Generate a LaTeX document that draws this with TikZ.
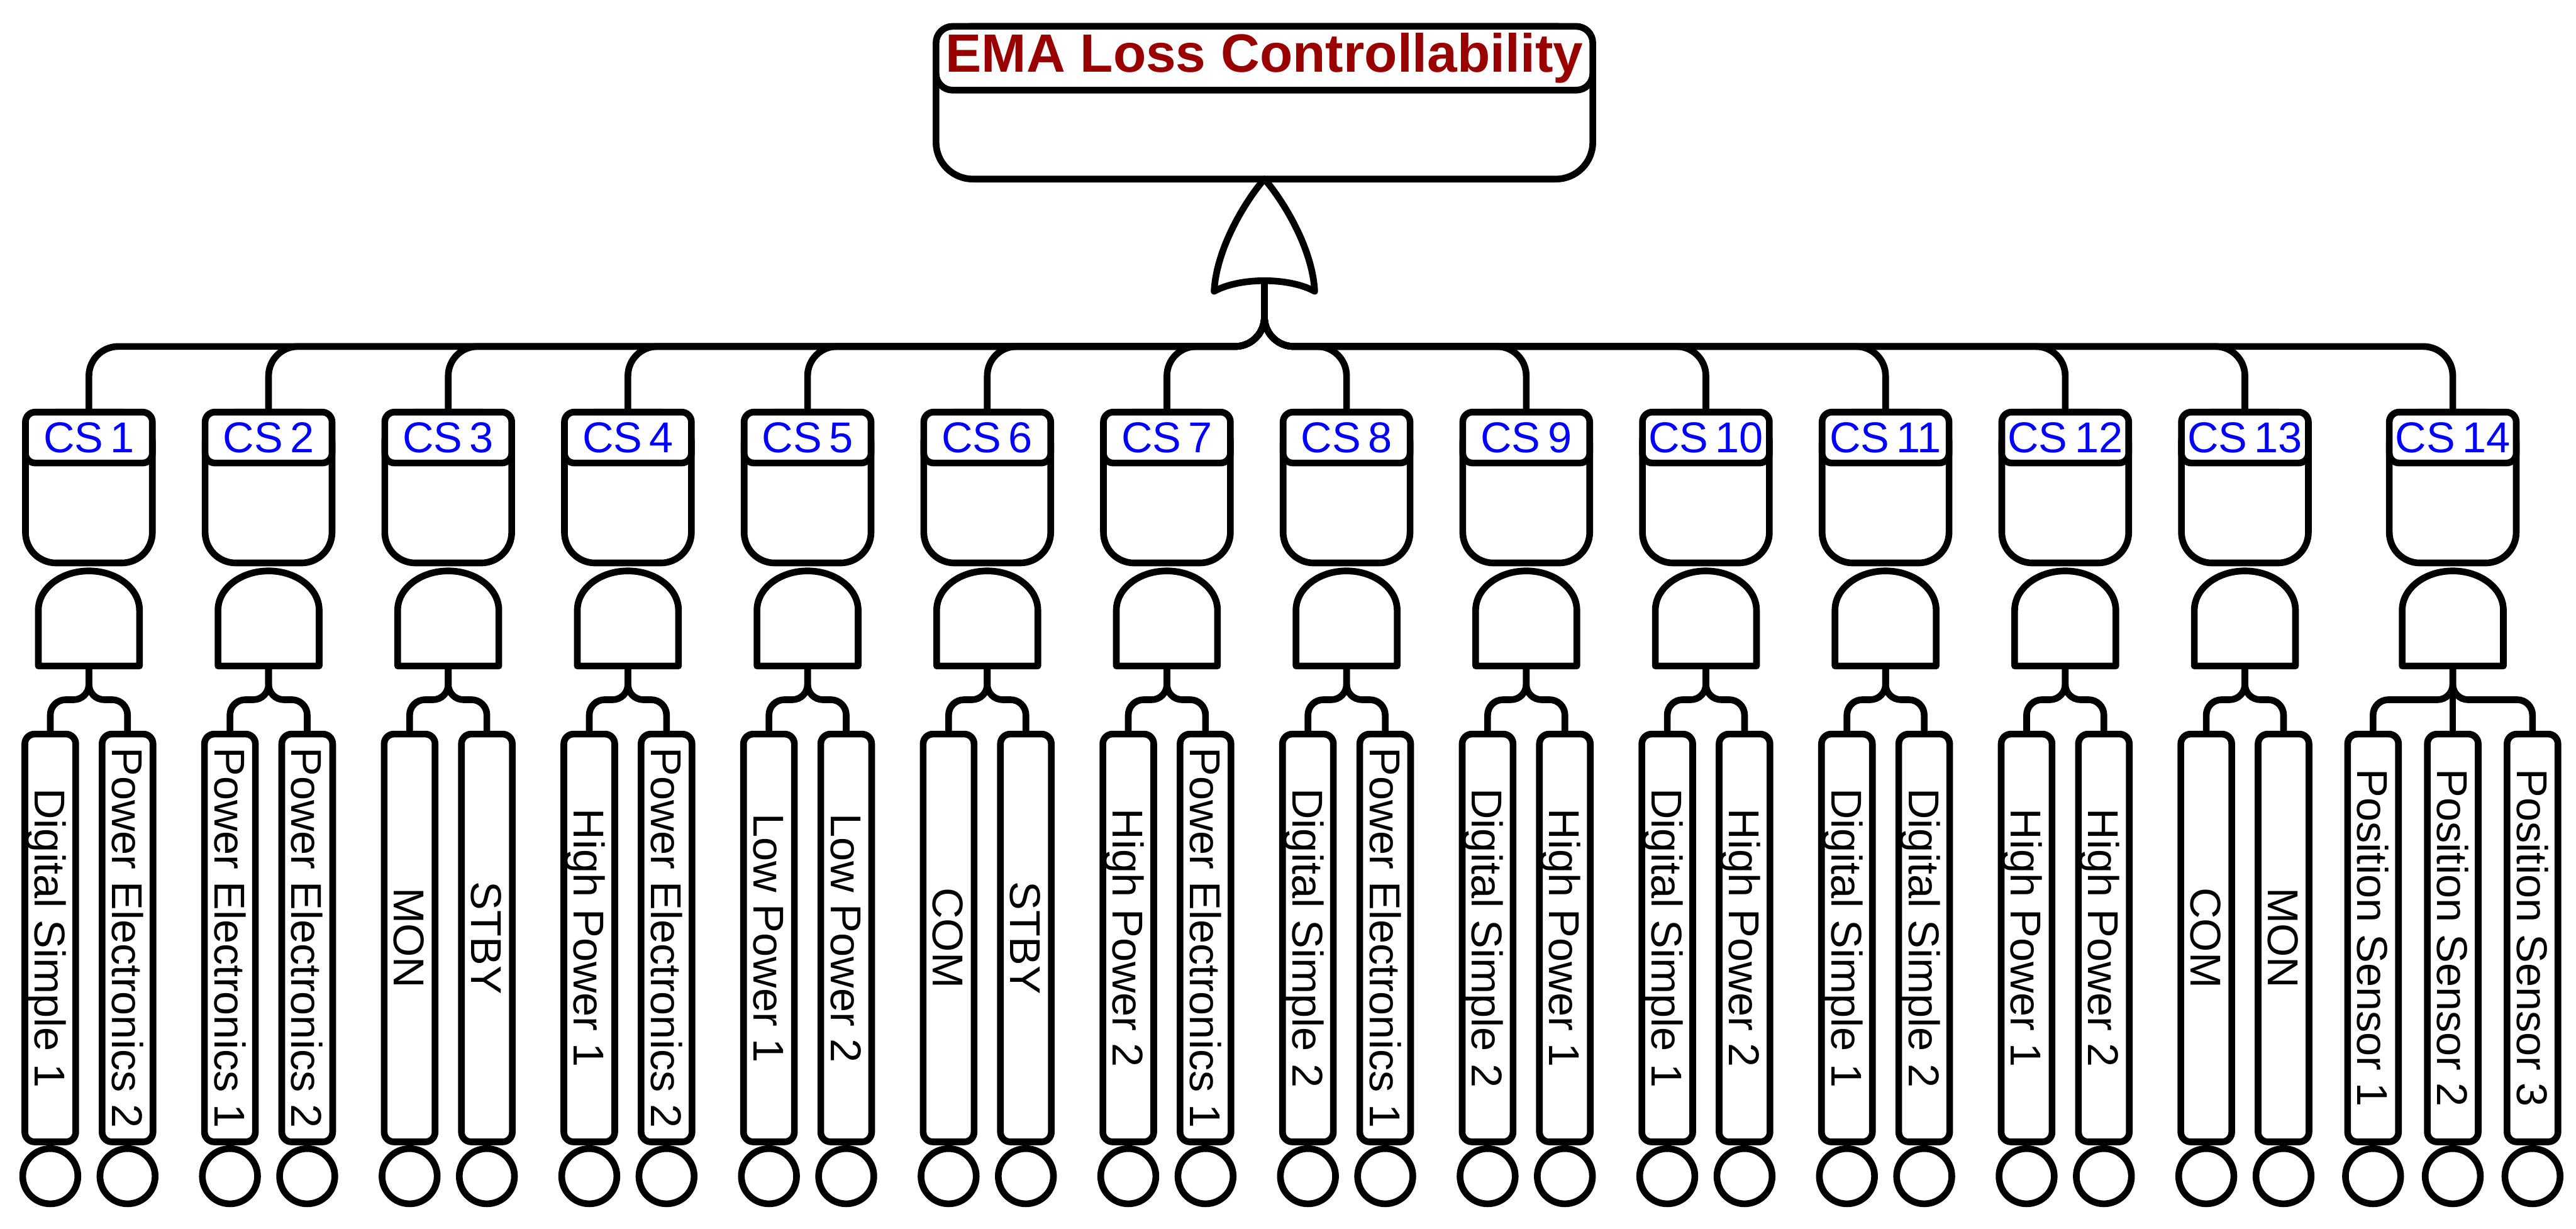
\documentclass[tikz,border=0pt]{standalone}
\usepackage{fontspec}
\setsansfont{Liberation Sans}
\usetikzlibrary{positioning}
\definecolor{topred}{RGB}{153,0,0}
\definecolor{csblue}{RGB}{0,0,255}

\begin{document}
\begin{tikzpicture}[
    font=\sffamily,
    line width=3.1pt,
    event/.style={
        draw, rectangle, rounded corners=0.6cm, fill=white,
        minimum width=10.71cm, minimum height=2.49cm, inner sep=0pt, outer sep=0pt
    },
    eventtitle/.style={
        draw, rectangle, rounded corners=0.27cm, fill=white,
        minimum width=10.71cm, minimum height=1.04cm, inner sep=0pt, outer sep=0pt,
        font=\sffamily\bfseries\fontsize{25}{29}\selectfont, text=topred
    },
    csbox/.style={
        draw, rectangle, rounded corners=0.5cm, fill=white,
        minimum width=2.07cm, minimum height=2.46cm, inner sep=0pt, outer sep=0pt
    },
    cstitle/.style={
        draw, rectangle, rounded corners=0.16cm, fill=white,
        minimum width=2.07cm, minimum height=0.83cm, inner sep=0pt, outer sep=0pt,
        font=\sffamily\fontsize{20}{24}\selectfont, text=csblue
    },
    leaf/.style={
        draw, rectangle, rounded corners=0.16cm, fill=white, rotate=-90,
        minimum width=6.65cm, minimum height=0.83cm, inner sep=0pt, outer sep=0pt,
        text height=14.3pt, text depth=0pt,
        font=\sffamily\fontsize{20}{24}\selectfont
    },
    basic/.style={
        draw, circle, fill=white, minimum size=0.9cm, inner sep=0pt, outer sep=0pt
    },
    gate/.style={draw, fill=white, line join=round},
    wire/.style={draw, rounded corners=0.48cm},
    branch/.style={draw, rounded corners=0.25cm}
]

\useasboundingbox (0,0) rectangle (42.01,-20.04);

% ==========================================
% TOP EVENT & OR GATE
% ==========================================

\node[event] (toplevel) at (20.62,-1.675) {};
\node[eventtitle, anchor=north] (toptitle) at (toplevel.north) {EMA Loss Controllability};

\draw[gate] (toplevel.south) .. controls (20.37,-3.2) and (19.84,-4.0) .. (19.80,-4.75)
    .. controls (20.22,-4.52) and (21.02,-4.52) .. (21.44,-4.75)
    .. controls (21.40,-4.0) and (20.87,-3.2) .. (toplevel.south) -- cycle;
\coordinate (orgate) at (20.62,-4.58);

% ==========================================
% CUT SETS CS1 .. CS13 (AND gates, two events)
% ==========================================

\foreach \i/\x/\a/\b in {
    1/1.45/Digital Simple 1/Power Electronics 2,
    2/4.38/Power Electronics 1/Power Electronics 2,
    3/7.31/MON/STBY,
    4/10.24/High Power 1/Power Electronics 2,
    5/13.17/Low Power 1/Low Power 2,
    6/16.10/COM/STBY,
    7/19.03/High Power 2/Power Electronics 1,
    8/21.96/Digital Simple 2/Power Electronics 1,
    9/24.89/Digital Simple 2/High Power 1,
    10/27.82/Digital Simple 1/High Power 2,
    11/30.75/Digital Simple 1/Digital Simple 2,
    12/33.68/High Power 1/High Power 2,
    13/36.61/COM/MON}{
    \node[csbox] (cs\i) at (\x,-7.95) {};
    \node[cstitle, anchor=north] (cs\i t) at (cs\i.north) {CS\,\i};
    \draw[wire] (orgate) -- ++(0,-1.07) -| (cs\i.north);

    \draw[gate] (\x-0.825,-10.86) -- (\x-0.825,-9.95)
        arc[start angle=180, end angle=0, x radius=0.825, y radius=0.64]
        -- (\x+0.825,-10.86) -- cycle;
    \coordinate (and\i) at (\x,-10.86);

    \node[leaf] (cs\i a) at (\x-0.63,-15.295) {\a};
    \node[leaf] (cs\i b) at (\x+0.63,-15.295) {\b};
    \node[basic, below=0.11cm of cs\i a.east] (ev\i a) {};
    \node[basic, below=0.11cm of cs\i b.east] (ev\i b) {};

    \draw[branch] (and\i) -- ++(0,-0.55) -| (cs\i a.west);
    \draw[branch] (and\i) -- ++(0,-0.55) -| (cs\i b.west);
}

% ==========================================
% CUT SET CS14 (AND gate, three sensors)
% ==========================================

\node[csbox] (cs14) at (40.00,-7.95) {};
\node[cstitle, anchor=north] (cs14t) at (cs14.north) {CS\,14};
\draw[wire] (orgate) -- ++(0,-1.07) -| (cs14.north);

\draw[gate] (39.175,-10.86) -- (39.175,-9.95)
    arc[start angle=180, end angle=0, x radius=0.825, y radius=0.64]
    -- (40.825,-10.86) -- cycle;
\coordinate (and14) at (40.00,-10.86);

\node[leaf] (cs14a) at (38.70,-15.295) {Position Sensor 1};
\node[leaf] (cs14b) at (40.00,-15.295) {Position Sensor 2};
\node[leaf] (cs14c) at (41.30,-15.295) {Position Sensor 3};
\node[basic, below=0.11cm of cs14a.east] (ev14a) {};
\node[basic, below=0.11cm of cs14b.east] (ev14b) {};
\node[basic, below=0.11cm of cs14c.east] (ev14c) {};

\draw[branch] (and14) -- ++(0,-0.55) -| (cs14a.west);
\draw (and14) -- (cs14b.west);
\draw[branch] (and14) -- ++(0,-0.55) -| (cs14c.west);

\end{tikzpicture}
\end{document}
